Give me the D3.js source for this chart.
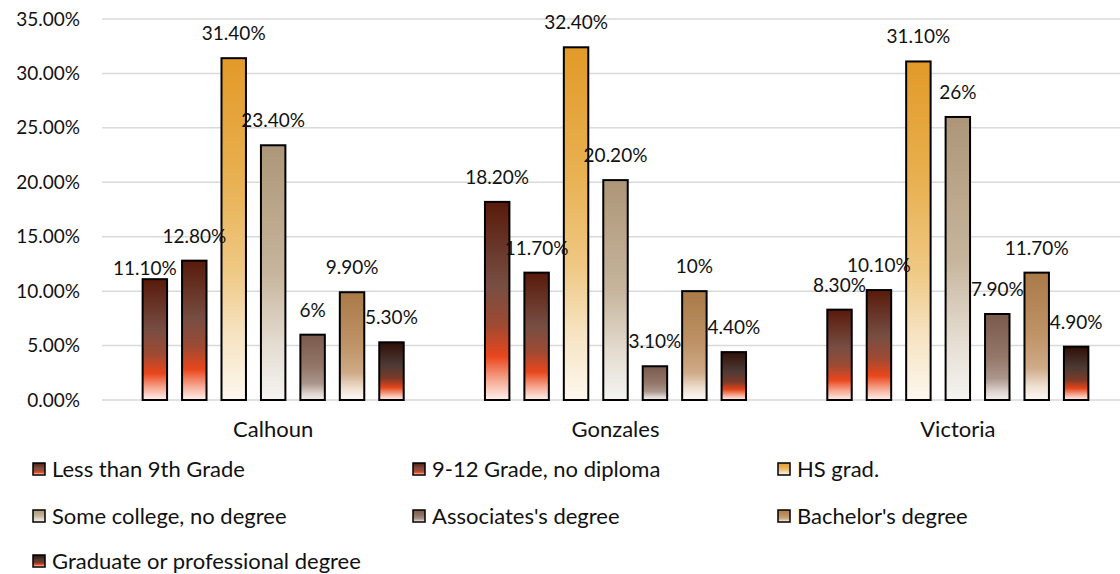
<!DOCTYPE html>
<html><head><meta charset="utf-8">
<script src="https://cdn.jsdelivr.net/npm/d3@7"></script>
<style>
html,body{margin:0;padding:0;background:#fff;}
text{font-family:Lato,"Open Sans",sans-serif;fill:#111;}
</style></head>
<body>
<svg id="chart" width="1120" height="574"></svg>
<script>
// ---- data ----
const categories = ["Calhoun", "Gonzales", "Victoria"];
const seriesNames = ["Less than 9th Grade", "9-12 Grade, no diploma", "HS grad.",
  "Some college, no degree", "Associates's degree", "Bachelor's degree", "Graduate or professional degree"];
const lessThan9th = [11.1, 18.2, 8.3];
const grade9to12 = [12.8, 11.7, 10.1];
const hsGrad = [31.4, 32.4, 31.1];
const someCollege = [23.4, 20.2, 26.0];
const associates = [6.0, 3.1, 7.9];
const bachelors = [9.9, 10.0, 11.7];
const graduate = [5.3, 4.4, 4.9];
const valueLabels = [
  ["11.10%", "18.20%", "8.30%"],
  ["12.80%", "11.70%", "10.10%"],
  ["31.40%", "32.40%", "31.10%"],
  ["23.40%", "20.20%", "26%"],
  ["6%", "3.10%", "7.90%"],
  ["9.90%", "10%", "11.70%"],
  ["5.30%", "4.40%", "4.90%"]
];
const yTicks = [0, 5, 10, 15, 20, 25, 30, 35];
const yTickLabels = ["0.00%", "5.00%", "10.00%", "15.00%", "20.00%", "25.00%", "30.00%", "35.00%"];

const seriesValues = [lessThan9th, grade9to12, hsGrad, someCollege, associates, bachelors, graduate];

// gradient definitions (style)
const gradients = [
  [[0, "#581a0a"], [0.42, "#774e43"], [0.62, "#9e4a33"], [0.78, "#e9461c"], [0.9, "#f6a892"], [1, "#fff2ee"]],
  [[0, "#581a0a"], [0.42, "#774e43"], [0.62, "#9e4a33"], [0.78, "#e9461c"], [0.9, "#f6a892"], [1, "#fff2ee"]],
  [[0, "#e29a28"], [0.35, "#e8b050"], [0.62, "#efc884"], [0.8, "#f6e2bf"], [1, "#fdf8ee"]],
  [[0, "#ad9678"], [0.5, "#c6b59c"], [0.78, "#e4dcd0"], [1, "#f5f4f2"]],
  [[0, "#795a4d"], [0.5, "#947769"], [0.75, "#ab968c"], [0.9, "#ddd3cf"], [1, "#f3efee"]],
  [[0, "#aa7a48"], [0.5, "#bf9468"], [0.75, "#cfab88"], [0.9, "#f0e2d4"], [1, "#fdf8f3"]],
  [[0, "#2f0f06"], [0.4, "#4d3b35"], [0.62, "#7a3a28"], [0.78, "#e2441a"], [0.9, "#f6a892"], [1, "#fff2ee"]]
];

const numFont = 19;   // numeric labels
const wordFont = 22;  // category and legend text

const svg = d3.select("#chart");
const defs = svg.append("defs");
gradients.forEach((stops, i) => {
  const g = defs.append("linearGradient").attr("id", "g" + i)
    .attr("x1", 0).attr("y1", 0).attr("x2", 0).attr("y2", 1);
  stops.forEach(s => g.append("stop").attr("offset", s[0]).attr("stop-color", s[1]));
});

const x0 = d3.scaleBand().domain(categories).range([102, 1129]).padding(0);
const x1 = d3.scaleBand().domain(d3.range(seriesNames.length)).range([0, x0.bandwidth()])
  .paddingInner(0.38).paddingOuter(1.03);
const y = d3.scaleLinear().domain([0, 35]).range([400, 19]);

// gridlines
svg.append("g").selectAll("line").data(yTicks).join("line")
  .attr("x1", 102).attr("x2", 1120)
  .attr("y1", d => y(d)).attr("y2", d => y(d))
  .attr("stroke", "#d9d9d9").attr("stroke-width", 1.5);

// y axis labels
const yAxis = d3.axisLeft(y).tickValues(yTicks).tickSize(0).tickPadding(0)
  .tickFormat((d, i) => yTickLabels[i]);
const yg = svg.append("g").attr("transform", "translate(80,0)").call(yAxis);
yg.select(".domain").remove();
yg.selectAll("text").attr("font-size", numFont).attr("font-family", "Lato, sans-serif").attr("fill", "#111");

// x axis labels
const xAxis = d3.axisBottom(x0).tickSize(0).tickPadding(0);
const xg = svg.append("g").attr("transform", "translate(0,421)").call(xAxis);
xg.select(".domain").remove();
xg.selectAll("text").attr("font-size", wordFont).attr("font-family", "Lato, sans-serif").attr("fill", "#111");

// bars
const barData = [];
seriesValues.forEach((vals, s) => vals.forEach((v, c) => barData.push({ s, c, v, label: valueLabels[s][c] })));

svg.append("g").selectAll("rect").data(barData).join("rect")
  .attr("x", d => x0(categories[d.c]) + x1(d.s))
  .attr("y", d => y(d.v))
  .attr("width", x1.bandwidth())
  .attr("height", d => y(0) - y(d.v))
  .attr("fill", d => "url(#g" + d.s + ")")
  .attr("stroke", "#000").attr("stroke-width", 2);

// label nudges (layout only)
const labelNudge = { "0-0": [-10, 14] };

svg.append("g").selectAll("text").data(barData).join("text")
  .attr("x", d => x0(categories[d.c]) + x1(d.s) + x1.bandwidth() / 2 + ((labelNudge[d.s + "-" + d.c] || [0, 0])[0]))
  .attr("y", d => y(d.v) - 18 + ((labelNudge[d.s + "-" + d.c] || [0, 0])[1]))
  .attr("text-anchor", "middle")
  .attr("font-size", numFont)
  .text(d => d.label);

// legend
const legendPos = [[33, 469], [413, 469], [778, 469], [33, 516], [413, 516], [778, 516], [33, 561]];
const lg = svg.append("g").selectAll("g").data(seriesNames).join("g")
  .attr("transform", (d, i) => `translate(${legendPos[i][0]},${legendPos[i][1]})`);
lg.append("rect").attr("x", 0).attr("y", -6).attr("width", 12).attr("height", 12)
  .attr("fill", (d, i) => "url(#g" + i + ")").attr("stroke", "#000").attr("stroke-width", 1.5);
lg.append("text").attr("x", 19).attr("y", 8).attr("font-size", wordFont).text(d => d);
</script>
</body></html>
